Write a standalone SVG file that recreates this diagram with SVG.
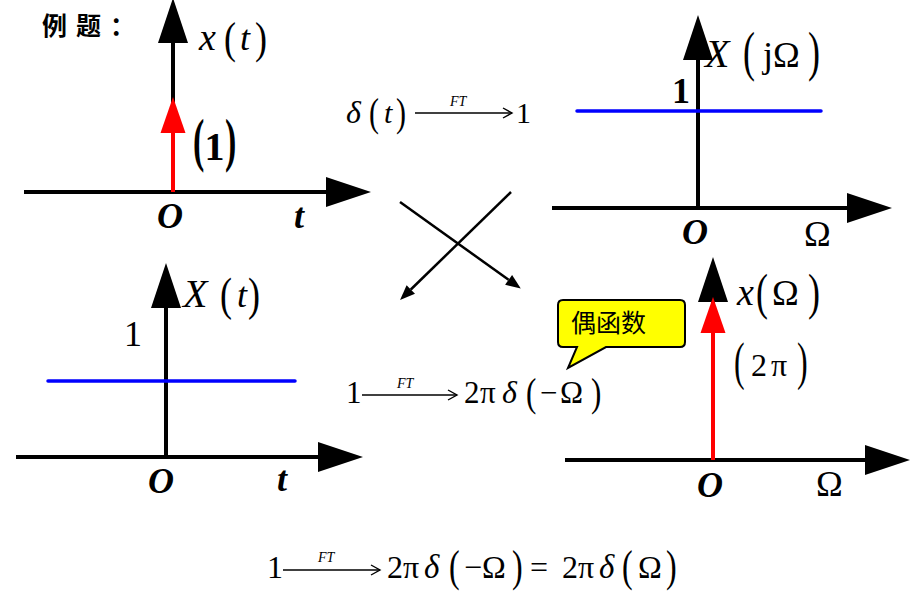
<svg xmlns="http://www.w3.org/2000/svg" width="911" height="601" viewBox="0 0 911 601">
<style>
.m{font-family:"Liberation Serif","Times New Roman",serif;fill:#000}
.i{font-style:italic}
.b{font-weight:bold}
.cjk{font-family:"Noto Sans CJK SC","Noto Sans",sans-serif;fill:#000}
.ax{stroke:#000;stroke-width:4;fill:none}
.red{stroke:#ff0000;stroke-width:4;fill:none}
.blue{stroke:#0000ff;stroke-width:3.5;stroke-linecap:round;fill:none}
.cr{stroke:#000;stroke-width:2.5;fill:none}
.ft{stroke:#000;stroke-width:1.4;fill:none}
</style>
<defs>
<marker id="axh" markerUnits="userSpaceOnUse" markerWidth="46" markerHeight="30" refX="0" refY="15" orient="auto" overflow="visible">
<path d="M0,0 L45,15 L0,30 Z" fill="#000"/>
</marker>
<marker id="rh" markerUnits="userSpaceOnUse" markerWidth="36" markerHeight="26" refX="0" refY="12.5" orient="auto" overflow="visible">
<path d="M0,0 L36,12.5 L0,25 Z" fill="#ff0000"/>
</marker>
<marker id="sh" markerUnits="userSpaceOnUse" markerWidth="15" markerHeight="12" refX="0" refY="6" orient="auto" overflow="visible">
<path d="M0,0 L15,6 L0,12 Z" fill="#000"/>
</marker>
<marker id="fth" markerUnits="userSpaceOnUse" markerWidth="10" markerHeight="10" refX="9" refY="5" orient="auto" overflow="visible">
<path d="M0,0 L9,5 L0,10" fill="none" stroke="#000" stroke-width="1.4"/>
</marker>
</defs>
<rect width="911" height="601" fill="#fff"/>

<text class="cjk b" x="42" y="35" font-size="25" letter-spacing="9">例题：</text>

<g id="plot-xt">
<line class="ax" x1="24" y1="192" x2="326" y2="192" marker-end="url(#axh)"/>
<line class="ax" x1="173" y1="192" x2="173" y2="43" marker-end="url(#axh)"/>
<line class="red" x1="173" y1="192" x2="173" y2="133" marker-end="url(#rh)"/>
<text class="m i" x="199" y="50" font-size="38">x</text>
<text class="m" font-size="36" transform="translate(224,52.5) scale(1,1.22)">(</text>
<text class="m i" x="240" y="50" font-size="36">t</text>
<text class="m" font-size="36" transform="translate(255,52.5) scale(1,1.22)">)</text>
<text class="m b" font-size="34" transform="translate(193,160) scale(1,1.75)">(</text>
<text class="m b" x="204.5" y="160" font-size="40">1</text>
<text class="m b" font-size="34" transform="translate(225,160) scale(1,1.75)">)</text>
<text class="m b i" x="157" y="228" font-size="36">O</text>
<text class="m b i" x="294" y="228" font-size="36">t</text>
</g>

<g id="plot-Xjw">
<line class="ax" x1="552" y1="208" x2="847" y2="208" marker-end="url(#axh)"/>
<line class="ax" x1="698" y1="208" x2="698" y2="60" marker-end="url(#axh)"/>
<line class="blue" x1="577" y1="111" x2="821" y2="111"/>
<text class="m b" x="672" y="103" font-size="36">1</text>
<text class="m i" x="705" y="67" font-size="40">X</text>
<text class="m" font-size="36" transform="translate(743,70.4) scale(1,1.5)">(</text>
<text class="m" x="763" y="67" font-size="36">j</text>
<text class="m" x="773" y="67" font-size="36">Ω</text>
<text class="m" font-size="36" transform="translate(808,70.4) scale(1,1.5)">)</text>
<text class="m b i" x="682" y="244" font-size="36">O</text>
<text class="m" x="804" y="246" font-size="36">Ω</text>
</g>

<g id="formula-delta">
<text class="m i" x="346" y="123" font-size="32">δ</text>
<text class="m" font-size="30" transform="translate(369,126.2) scale(1,1.36)">(</text>
<text class="m i" x="384" y="123" font-size="30">t</text>
<text class="m" font-size="30" transform="translate(396,126.2) scale(1,1.36)">)</text>
<text class="m" x="516" y="123" font-size="30">1</text>
<line class="ft" x1="415" y1="113" x2="512" y2="113" marker-end="url(#fth)"/>
<text class="m i" x="450" y="106" font-size="14">FT</text>
</g>

<g id="connectors">
<line class="cr" x1="400" y1="202" x2="508.6" y2="279.8" marker-end="url(#sh)"/>
<line class="cr" x1="511" y1="192" x2="410.8" y2="289.5" marker-end="url(#sh)"/>
</g>

<g id="plot-Xt">
<line class="ax" x1="16" y1="457" x2="318" y2="457" marker-end="url(#axh)"/>
<line class="ax" x1="166" y1="457" x2="166" y2="308" marker-end="url(#axh)"/>
<line class="blue" x1="48" y1="381" x2="295" y2="381"/>
<text class="m" x="124" y="346" font-size="36">1</text>
<text class="m i" x="183" y="307" font-size="40">X</text>
<text class="m" font-size="36" transform="translate(220,310) scale(1,1.28)">(</text>
<text class="m i" x="237" y="307" font-size="36">t</text>
<text class="m" font-size="36" transform="translate(248,310) scale(1,1.28)">)</text>
<text class="m b i" x="148" y="493" font-size="36">O</text>
<text class="m b i" x="277" y="491" font-size="36">t</text>
</g>

<g id="formula-one">
<text class="m" x="346" y="403" font-size="31">1</text>
<line class="ft" x1="362" y1="395" x2="457" y2="395" marker-end="url(#fth)"/>
<text class="m i" x="397" y="388" font-size="14">FT</text>
<text class="m" x="464" y="403" font-size="31">2</text>
<text class="m" x="480" y="403" font-size="31">π</text>
<text class="m i" x="502" y="403" font-size="32">δ</text>
<text class="m" font-size="31" transform="translate(526,406.3) scale(1,1.31)">(</text>
<text class="m" x="540" y="403" font-size="31">−</text>
<text class="m" x="560" y="403" font-size="31">Ω</text>
<text class="m" font-size="31" transform="translate(591,406.3) scale(1,1.31)">)</text>
</g>

<g id="callout">
<path d="M563,300 H680 Q685,300 685,305 V342 Q685,347 680,347 H606 L568,368 L577,347 H563 Q558,347 558,342 V305 Q558,300 563,300 Z" fill="#ffff00" stroke="#000" stroke-width="2"/>
<text class="cjk" x="571" y="332" font-size="25">偶函数</text>
</g>

<g id="plot-xw">
<line class="ax" x1="565" y1="460" x2="865" y2="460" marker-end="url(#axh)"/>
<line class="ax" x1="713" y1="460" x2="713" y2="302" marker-end="url(#axh)"/>
<line class="red" x1="713" y1="460" x2="713" y2="333" marker-end="url(#rh)"/>
<text class="m i" x="737" y="305" font-size="38">x</text>
<text class="m" font-size="36" transform="translate(756,309) scale(1,1.38)">(</text>
<text class="m" x="772" y="305" font-size="36">Ω</text>
<text class="m" font-size="36" transform="translate(808,309) scale(1,1.38)">)</text>
<text class="m" font-size="32" transform="translate(734,379) scale(1,1.62)">(</text>
<text class="m" x="751" y="376" font-size="32">2</text>
<text class="m" x="771" y="376" font-size="32">π</text>
<text class="m" font-size="32" transform="translate(797,379) scale(1,1.62)">)</text>
<text class="m b i" x="697" y="497" font-size="36">O</text>
<text class="m" x="816" y="496" font-size="36">Ω</text>
</g>

<g id="formula-final">
<text class="m" x="267" y="578" font-size="32">1</text>
<line class="ft" x1="283" y1="570" x2="380" y2="570" marker-end="url(#fth)"/>
<text class="m i" x="318" y="562" font-size="14">FT</text>
<text class="m" x="387" y="578" font-size="32">2</text>
<text class="m" x="403" y="578" font-size="32">π</text>
<text class="m i" x="424" y="578" font-size="33">δ</text>
<text class="m" font-size="32" transform="translate(449,580.6) scale(1,1.37)">(</text>
<text class="m" x="464" y="578" font-size="32">−</text>
<text class="m" x="482" y="578" font-size="32">Ω</text>
<text class="m" font-size="32" transform="translate(512,580.6) scale(1,1.37)">)</text>
<text class="m" x="530" y="578" font-size="32">=</text>
<text class="m" x="562" y="578" font-size="32">2</text>
<text class="m" x="578" y="578" font-size="32">π</text>
<text class="m i" x="599" y="578" font-size="33">δ</text>
<text class="m" font-size="32" transform="translate(622,580.6) scale(1,1.37)">(</text>
<text class="m" x="638" y="578" font-size="32">Ω</text>
<text class="m" font-size="32" transform="translate(666,580.6) scale(1,1.37)">)</text>
</g>
</svg>
